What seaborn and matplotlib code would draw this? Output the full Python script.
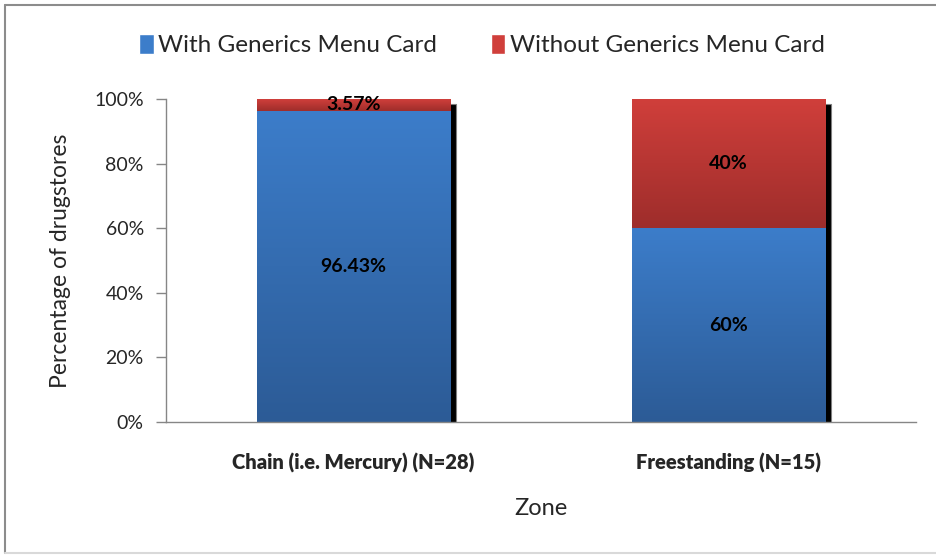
import matplotlib
matplotlib.use('Agg')
import matplotlib.pyplot as plt
import matplotlib.transforms as mtransforms
from matplotlib.patches import Rectangle
from matplotlib.colors import LinearSegmentedColormap
from matplotlib.lines import Line2D
import seaborn as sns
import numpy as np
import pandas as pd

zones = ['Chain (i.e. Mercury) (N=28)', 'Freestanding (N=15)']
series = ['With Generics Menu Card', 'Without Generics Menu Card']
with_card = [96.43, 60]
without_card = [3.57, 40]
with_labels = ['96.43%', '60%']
without_labels = ['3.57%', '40%']

blue_top, blue_bottom = '#3c7dca', '#2c5b96'
red_top, red_bottom = '#d03f3b', '#9e2d2b'

sns.set_theme(style='white')
plt.rcParams['font.family'] = ['Lato', 'DejaVu Sans']

df = pd.DataFrame({'zone': zones, 'with': with_card, 'without': without_card})
df['total'] = df['with'] + df['without']

fig = plt.figure(figsize=(9.37, 5.55), dpi=100)
ax = fig.add_axes([166 / 937, 1 - 422 / 555, 750 / 937, 323 / 555])

# stacked: full height in red, then blue on top of it from 0
sns.barplot(data=df, x='zone', y='total', color=red_top, width=0.515,
            saturation=1, ax=ax)
sns.barplot(data=df, x='zone', y='with', color=blue_top, width=0.515,
            saturation=1, ax=ax)

bars = list(ax.patches)
n = len(zones)
red_bars, blue_bars = bars[:n], bars[n:]

# red patches should only span the top segment
for rb, bb in zip(red_bars, blue_bars):
    rb.set_y(bb.get_height())
    rb.set_height(rb.get_height() - bb.get_height())

# shadow behind each stacked bar
shadow_tr = mtransforms.offset_copy(ax.transData, fig=fig, x=6, y=-5, units='dots')
for rb, bb in zip(red_bars, blue_bars):
    ax.add_patch(Rectangle((bb.get_x(), 0), bb.get_width(), 100,
                           transform=shadow_tr, facecolor='black',
                           edgecolor='#7f7f7f', linewidth=0.8, zorder=0.5))

# vertical gradients clipped to bar patches
grad = np.linspace(0, 1, 256).reshape(-1, 1)
for patches, top, bottom in [(blue_bars, blue_top, blue_bottom),
                             (red_bars, red_top, red_bottom)]:
    cmap = LinearSegmentedColormap.from_list('g', [bottom, top])
    for p in patches:
        x, y, w, h = p.get_x(), p.get_y(), p.get_width(), p.get_height()
        im = ax.imshow(grad, extent=[x, x + w, y, y + h], origin='lower',
                       cmap=cmap, aspect='auto', zorder=p.get_zorder() + 0.1)
        im.set_clip_path(p)
        p.set_edgecolor('none')

# data labels
for i, (bb, rb) in enumerate(zip(blue_bars, red_bars)):
    cx = bb.get_x() + bb.get_width() / 2
    ax.text(cx, bb.get_height() / 2, with_labels[i], ha='center', va='center',
            fontsize=14, fontweight='bold', color='black', zorder=5)
    ax.text(cx, rb.get_y() + rb.get_height() / 2, without_labels[i],
            ha='center', va='center', fontsize=14, fontweight='bold',
            color='black', zorder=5)

ax.set_xlim(-0.5, 1.5)
ax.set_ylim(0, 100)
ax.set_yticks(range(0, 101, 20))
ax.set_yticklabels([f'{v}%' for v in range(0, 101, 20)], fontsize=14)
ax.set_xticks(range(n))
ax.set_xticklabels(zones, fontsize=14.5, fontweight='heavy')
ax.tick_params(axis='y', length=7, width=1, color='#868686', left=True, pad=9)
ax.tick_params(axis='x', length=0, pad=22)
for s in ['top', 'right']:
    ax.spines[s].set_visible(False)
for s in ['left', 'bottom']:
    ax.spines[s].set_color('#868686')
    ax.spines[s].set_linewidth(1)
ax.set_ylabel('Percentage of drugstores', fontsize=16.5, labelpad=17)
ax.set_xlabel('Zone', fontsize=17, labelpad=18)

handles = [Rectangle((0, 0), 1, 1, facecolor=blue_top),
           Rectangle((0, 0), 1, 1, facecolor=red_top)]
fig.legend(handles, series, loc='center', bbox_to_anchor=(482 / 937, 1 - 45 / 555),
           ncol=2, frameon=False, fontsize=17.5, handlelength=0.6, handleheight=0.9,
           handletextpad=0.2, columnspacing=2.2)

# outer chart border
fig.add_artist(Line2D([5 / 937, 5 / 937], [1 - 553 / 555, 1 - 5 / 555],
                      transform=fig.transFigure, color='#8c8c8c', linewidth=1.5))
fig.add_artist(Line2D([5 / 937, 1], [1 - 5 / 555, 1 - 5 / 555],
                      transform=fig.transFigure, color='#8c8c8c', linewidth=1.5))
fig.add_artist(Line2D([5 / 937, 1], [1 - 553 / 555, 1 - 553 / 555],
                      transform=fig.transFigure, color='#d9d9d9', linewidth=1.5))

fig.savefig('out.png', dpi=100)
